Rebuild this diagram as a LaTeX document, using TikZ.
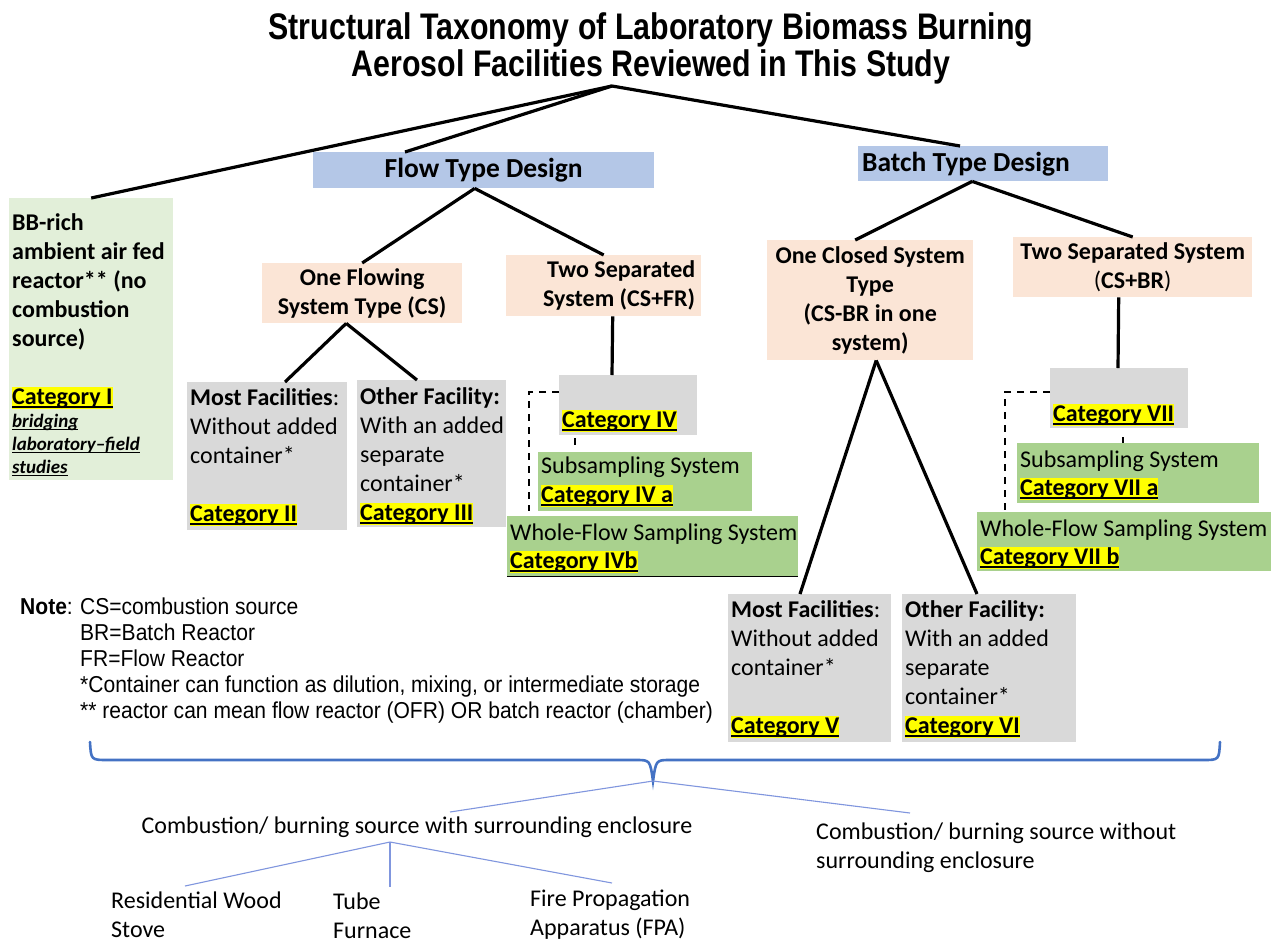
\documentclass[tikz,border=0pt]{standalone}
\usepackage{fontspec}
\setmainfont{Carlito}
\newfontfamily\arialn[FakeStretch=0.82]{Liberation Sans}
\newfontfamily\arialnote[FakeStretch=0.915]{Liberation Sans}
\usetikzlibrary{calc}
\definecolor{hdrblue}{RGB}{180,199,231}
\definecolor{peach}{RGB}{251,229,214}
\definecolor{gboxc}{RGB}{217,217,217}
\definecolor{lgreen}{RGB}{226,239,217}
\definecolor{mgreen}{RGB}{169,209,142}
\definecolor{braceblue}{RGB}{68,114,196}
\definecolor{thinblue}{RGB}{128,150,222}
\definecolor{hlyellow}{RGB}{255,255,0}
\newcommand\ulc[1]{\leavevmode\setbox0=\hbox{#1}\rlap{\vrule height -0.09em depth 0.15em width \wd0}\box0}
\newcommand\catlbl[1]{\leavevmode{\setlength{\fboxsep}{0pt}\colorbox{hlyellow}{\vrule height 0.72em depth 0.2em width 0pt\relax\bfseries\ulc{#1}}}}
\tikzset{
  tbox/.style n args={3}{anchor=north west, fill=#3, draw=none, inner sep=0pt, minimum width=#1, minimum height=#2},
  hdr/.style={font=\bfseries\fontsize{27.5}{33}\selectfont, align=center},
  sub/.style={font=\bfseries\fontsize{24}{29}\selectfont, align=center},
  txt/.style={anchor=base west, inner sep=0pt, align=flush left, text width=#1, font=\fontsize{24}{29}\selectfont},
  txtg/.style={anchor=base west, inner sep=0pt, align=flush left, text width=#1, font=\fontsize{24}{28}\selectfont},
  conn/.style={draw=black, line width=3.2pt},
  dsh/.style={draw=black, line width=2.4pt, dash pattern=on 7pt off 6pt},
  thin/.style={draw=thinblue, line width=1.1pt},
  brc/.style={draw=braceblue, line width=2.6pt, line cap=round}
}
\begin{document}
\begin{tikzpicture}[x=1pt,y=-1pt]
\fill[white] (0,0) rectangle (1271,943);
\useasboundingbox (0,0) rectangle (1271,943);

% title
\node[font=\arialn\bfseries\fontsize{37}{37}\selectfont, align=center, inner sep=0pt] (title) at (651,48) {Structural Taxonomy of Laboratory Biomass Burning\\Aerosol Facilities Reviewed in This Study};
\coordinate (apex) at (612,86);

% level 1
\node[tbox={164}{282}{lgreen}] (cat1) at (9,198) {};
\node[tbox={341}{36}{hdrblue}, hdr] (flow) at (313,152) {Flow Type Design};
\node[tbox={250}{35}{hdrblue}, hdr, text width=242, align=flush left] (batch) at (858,146) {Batch Type Design};

% flow branch
\node[tbox={200}{60}{peach}, sub] (onef) at (262,263) {One Flowing\\System Type (CS)};
\node[tbox={195}{61}{peach}, sub, text width=183, align=flush right] (twofr) at (506,255) {Two Separated\\System (CS+FR)};
\node[tbox={160}{148}{gboxc}] (cat2) at (187,382) {};
\node[tbox={149}{147}{gboxc}] (cat3) at (357,380) {};
\node[tbox={138}{60}{gboxc}] (cat4) at (559,375) {};
\node[tbox={214}{59}{mgreen}] (cat4a) at (538,452) {};
\node[tbox={291}{60}{mgreen}] (cat4b) at (507,516) {};

% batch branch
\node[tbox={206}{120}{peach}, sub] (onec) at (767,240) {One Closed System\\Type\\(CS-BR in one\\system)};
\node[tbox={239}{60}{peach}, sub] (twosep) at (1013,237) {Two Separated System\\\textmd{(}CS+BR\textmd{)}};
\node[tbox={138}{60}{gboxc}] (cat7) at (1050,368) {};
\node[tbox={242}{60}{mgreen}] (cat7a) at (1017,443) {};
\node[tbox={294}{59}{mgreen}] (cat7b) at (977,512) {};
\node[tbox={163}{148}{gboxc}] (cat5) at (728,594) {};
\node[tbox={174}{148}{gboxc}] (cat6) at (902,594) {};

% box texts
\node[txt=200] (cat1t) at ($(cat1.north west)+(3,32)$) {\textbf{BB-rich}\\\textbf{ambient air fed}\\\textbf{reactor** (no}\\\textbf{combustion}\\\textbf{source)}\\[29pt]\catlbl{Category I}\par
{\fontsize{19}{23}\selectfont\bfseries\itshape\ulc{bridging}\\\ulc{laboratory–field}\\\ulc{studies}\par}};
\node[txt=200] (cat2t) at ($(cat2.north west)+(3,23)$) {\textbf{Most Facilities}:\\Without added\\container*\\[29pt]\catlbl{Category II}};
\node[txt=200] (cat3t) at ($(cat3.north west)+(3,24)$) {\textbf{Other Facility:}\\With an added\\separate\\container*\\\catlbl{Category III}};
\node[txt=200] (cat5t) at ($(cat5.north west)+(3,23)$) {\textbf{Most Facilities}:\\Without added\\container*\\[29pt]\catlbl{Category V}};
\node[txt=200] (cat6t) at ($(cat6.north west)+(3,23)$) {\textbf{Other Facility:}\\With an added\\separate\\container*\\\catlbl{Category VI}};
\node[txt=200] (cat4t) at ($(cat4.north west)+(3,52)$) {\catlbl{Category IV}};
\node[txt=200] (cat7t) at ($(cat7.north west)+(3,53)$) {\catlbl{Category VII}};
\node[txt=300] (cat4at) at ($(cat4a.north west)+(3,21)$) {Subsampling System\\\catlbl{Category IV a}};
\node[txtg=320] (cat4bt) at ($(cat4b.north west)+(3,24)$) {Whole-Flow Sampling System\\\catlbl{Category IVb}};
\node[txtg=300] (cat7at) at ($(cat7a.north west)+(3,24)$) {Subsampling System\\\catlbl{Category VII a}};
\node[txtg=320] (cat7bt) at ($(cat7b.north west)+(3,24)$) {Whole-Flow Sampling System\\\catlbl{Category VII b}};
\draw[line width=1.5pt] (cat4b.south west) -- (cat4b.south east);

% solid connectors
\draw[conn] (apex) -- (cat1.north);
\draw[conn] (apex) -- ($(flow.north west)+(92,0)$);
\draw[conn] (apex) -- ($(batch.north west)+(102,0)$);
\coordinate (fj) at ($(flow.south)+(-9,0)$);
\draw[conn] (fj) -- (onef.north);
\draw[conn] (fj) -- (twofr.north);
\coordinate (oj) at ($(onef.south)+(-16,0)$);
\draw[conn] (oj) -- ($(cat2.north west)+(98,0)$);
\draw[conn] (oj) -- ($(cat3.north west)+(60,0)$);
\draw[conn] ($(twofr.south)+(9,0)$) -- ($(cat4.north west)+(53,0)$);
\coordinate (bj) at ($(batch.south)+(-11,0)$);
\draw[conn] (bj) -- ($(onec.north)+(-15,0)$);
\draw[conn] (bj) -- (twosep.north);
\draw[conn] ($(twosep.south)+(-14,0)$) -- ($(cat7.north west)+(68,0)$);
\coordinate (cj) at ($(onec.south)+(6,0)$);
\draw[conn] (cj) -- ($(cat5.north west)+(72,0)$);
\draw[conn] (cj) -- ($(cat6.north west)+(75,0)$);

% dashed connectors
\draw[dsh] ($(cat4.north west)+(0,17)$) -| ($(cat4b.north west)+(22,-5)$);
\draw[dsh] ($(cat4.south west)+(16,3)$) -- ($(cat4a.north west)+(37,-4)$);
\draw[dsh] ($(cat7.north west)+(0,24)$) -| ($(cat7b.north west)+(28,-1)$);
\draw[dsh] ($(cat7.south west)+(73,9)$) -- ($(cat7a.north west)+(106,0)$);

% note
\node[anchor=base west, inner sep=0pt, font=\arialnote\fontsize{23}{26}\selectfont] (notel) at (20,614) {\textbf{Note}:};
\node[anchor=base west, inner sep=0pt, align=flush left, text width=700, font=\arialnote\fontsize{23}{26}\selectfont] (noteb) at (80,614) {CS=combustion source\\{}BR=Batch Reactor\\{}FR=Flow Reactor\\{}*Container can function as dilution, mixing, or intermediate storage\\{}** reactor can mean flow reactor (OFR) OR batch reactor (chamber)};

% brace
\coordinate (tip) at (653,781);
\draw[brc] (90,742) .. controls (91,760) .. (108,760) -- (636,760) .. controls (650,760) .. (tip) .. controls (656,760) .. (670,760) -- (1203,760) .. controls (1219,760) .. (1220,742);

% bottom tree
\node[anchor=base, inner sep=0pt, font=\fontsize{24}{29}\selectfont] (enc) at (417,833) {Combustion/ burning source with surrounding enclosure};
\node[txt=420] (noenc) at (816,839) {Combustion/ burning source without\\surrounding enclosure};
\node[txt=250] (rws) at (111,908) {Residential Wood\\Stove};
\node[txt=150] (tube) at (333,909) {Tube\\Furnace};
\node[txt=250] (fpa) at (530,906) {Fire Propagation\\Apparatus (FPA)};
\draw[thin] (tip) -- ($(enc.base)+(33,-21)$);
\draw[thin] (tip) -- ($(noenc.base west)+(94,-26)$);
\coordinate (encj) at ($(enc.base)+(-27,9)$);
\draw[thin] (encj) -- ($(rws.base west)+(74,-22)$);
\draw[thin] (encj) -- ($(tube.base west)+(57,-22)$);
\draw[thin] (encj) -- ($(fpa.base west)+(82,-23)$);
\end{tikzpicture}
\end{document}
